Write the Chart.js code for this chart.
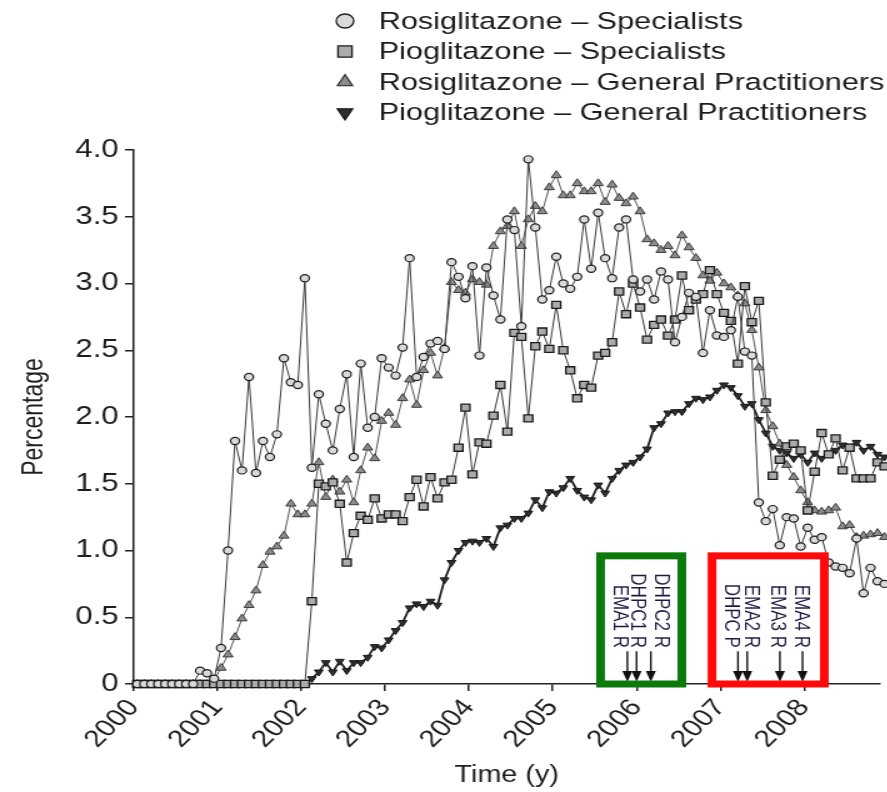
<!DOCTYPE html>
<html>
<head>
<meta charset="utf-8">
<title>Glitazone prescribing 2000-2008</title>
<script src="https://cdn.jsdelivr.net/npm/chart.js@4.4.1/dist/chart.umd.min.js"></script>
<style>
	html, body { margin: 0; padding: 0; background: #fff; overflow: hidden; }
	/* the source figure is stretched sideways, so the canvas is stretched the same way */
	#wrap { width: 710px; height: 792px; transform: scaleX(1.25); transform-origin: 0 0; }
	#line-chart { width: 710px; height: 792px; }
</style>
</head>
<body>
<div id="wrap"><canvas id="line-chart" width="710" height="792"></canvas></div>
<script>
// monthly values, Jan 2000 .. Dec 2008 (108 months), in percent
var startYear = 2000;

var rosiSpecialists = [
	0, 0, 0, 0, 0, 0, 0, 0, 0, 0.10,
	0.08, 0.04, 0.27, 1.00, 1.82, 1.60, 2.30, 1.58, 1.82, 1.70,
	1.87, 2.44, 2.26, 2.24, 3.04, 1.62, 2.17, 1.95, 1.75, 2.06,
	2.32, 1.70, 2.40, 1.92, 2.00, 2.44, 2.37, 2.31, 2.52, 3.19,
	2.30, 2.45, 2.55, 2.57, 2.51, 3.16, 3.05, 2.89, 3.13, 2.46,
	3.12, 2.91, 2.73, 3.48, 3.40, 2.68, 3.93, 3.42, 2.88, 2.95,
	3.20, 3.00, 2.96, 3.05, 3.48, 3.11, 3.53, 3.19, 3.04, 3.42,
	3.48, 3.03, 2.94, 3.03, 2.88, 3.09, 3.03, 2.56, 2.75, 2.93,
	2.90, 2.48, 2.80, 2.61, 2.60, 2.65, 2.90, 2.49, 2.46, 1.36,
	1.22, 1.31, 1.04, 1.25, 1.24, 1.03, 1.17, 1.08, 1.10, 0.91,
	0.88, 0.87, 0.83, 1.09, 0.68, 0.87, 0.77, 0.75
];

var pioSpecialists = [
	0, 0, 0, 0, 0, 0, 0, 0, 0, 0,
	0, 0, 0, 0, 0, 0, 0, 0, 0, 0,
	0, 0, 0, 0, 0, 0.62, 1.50, 1.48, 1.51, 1.35,
	0.91, 1.13, 1.26, 1.23, 1.39, 1.24, 1.27, 1.27, 1.22, 1.40,
	1.53, 1.33, 1.55, 1.39, 1.51, 1.53, 1.77, 2.07, 1.57, 1.81,
	1.80, 2.01, 2.24, 1.89, 2.63, 2.60, 1.99, 2.53, 2.64, 2.51,
	2.84, 2.50, 2.35, 2.14, 2.24, 2.22, 2.46, 2.48, 2.56, 2.94,
	2.77, 3.00, 2.82, 2.58, 2.69, 2.73, 2.61, 2.73, 3.06, 2.80,
	2.88, 2.92, 3.10, 2.92, 2.78, 2.72, 2.40, 2.98, 2.71, 2.87,
	2.11, 1.56, 1.68, 1.78, 1.80, 1.75, 1.30, 1.59, 1.88, 1.72,
	1.84, 1.60, 1.77, 1.54, 1.54, 1.54, 1.66, 1.63
];

var rosiGP = [
	0, 0, 0, 0, 0, 0, 0, 0, 0, 0,
	0, 0.03, 0.12, 0.22, 0.35, 0.49, 0.59, 0.70, 0.89, 0.99,
	1.03, 1.11, 1.35, 1.27, 1.27, 1.35, 1.66, 1.40, 1.53, 1.44,
	1.53, 1.36, 1.60, 1.77, 1.69, 1.97, 2.03, 1.94, 2.14, 2.28,
	2.09, 2.35, 2.48, 2.31, 2.52, 3.01, 2.95, 2.93, 3.03, 3.01,
	2.99, 3.28, 3.39, 3.43, 3.54, 3.28, 3.48, 3.58, 3.54, 3.72,
	3.81, 3.66, 3.66, 3.75, 3.69, 3.69, 3.75, 3.61, 3.74, 3.64,
	3.60, 3.65, 3.54, 3.33, 3.30, 3.25, 3.28, 3.21, 3.36, 3.27,
	3.19, 3.06, 3.02, 3.08, 3.00, 2.97, 2.91, 2.85, 2.65, 2.37,
	2.05, 1.93, 1.80, 1.64, 1.55, 1.45, 1.36, 1.30, 1.29, 1.30,
	1.32, 1.18, 1.19, 1.10, 1.11, 1.12, 1.13, 1.10
];

var pioGP = [
	0, 0, 0, 0, 0, 0, 0, 0, 0, 0,
	0, 0, 0, 0, 0, 0, 0, 0, 0, 0,
	0, 0, 0, 0, 0, 0.04, 0.09, 0.16, 0.09, 0.17,
	0.10, 0.16, 0.16, 0.20, 0.28, 0.27, 0.33, 0.40, 0.46, 0.57,
	0.60, 0.58, 0.62, 0.59, 0.78, 0.91, 1.00, 1.06, 1.07, 1.06,
	1.09, 1.03, 1.17, 1.19, 1.24, 1.24, 1.28, 1.38, 1.32, 1.44,
	1.43, 1.47, 1.54, 1.45, 1.40, 1.38, 1.49, 1.43, 1.54, 1.60,
	1.64, 1.66, 1.70, 1.76, 1.92, 1.95, 2.03, 2.04, 2.04, 2.10,
	2.14, 2.13, 2.15, 2.20, 2.24, 2.22, 2.16, 2.08, 2.10, 1.98,
	1.88, 1.78, 1.75, 1.73, 1.69, 1.72, 1.66, 1.73, 1.69, 1.73,
	1.75, 1.79, 1.78, 1.81, 1.75, 1.78, 1.72, 1.70
];

var seriesLabels = [
	"Rosiglitazone \u2013 Specialists",
	"Pioglitazone \u2013 Specialists",
	"Rosiglitazone \u2013 General Practitioners",
	"Pioglitazone \u2013 General Practitioners"
];

var yearTicks = [2000, 2001, 2002, 2003, 2004, 2005, 2006, 2007, 2008];
var percentTicks = [0, 0.5, 1.0, 1.5, 2.0, 2.5, 3.0, 3.5, 4.0];

// safety communications (DHPC = letter to prescribers, EMA = agency statement)
var warningLabels = ["EMA1 R", "DHPC1 R", "DHPC2 R", "DHPC P", "EMA2 R", "EMA3 R", "EMA4 R"];
var warningDates = [2005.89, 2006.0, 2006.17, 2007.21, 2007.32, 2007.71, 2007.98];
var warningLabelDates = [2005.79, 2006.0, 2006.29, 2007.13, 2007.36, 2007.67, 2007.96];
var warningBoxFrom = [2005.57, 2006.90];
var warningBoxTo = [2006.54, 2008.24];
var warningBoxColors = ["#0b7a0b", "#ff0a0a"];

var fontFamily = '"Liberation Sans", Arial, Helvetica, sans-serif';
Chart.defaults.font.family = fontFamily;
Chart.defaults.color = "#222";

function toPoints(values) {
	return values.map(function (v, i) {
		return { x: startYear + (i + 0.5) / 12, y: v };
	});
}

// small shape helper for the legend markers
function drawMarker(ctx, style, rotation, x, y, r, fill, stroke) {
	ctx.beginPath();
	if (style === "circle") {
		ctx.arc(x, y, r, 0, Math.PI * 2);
	} else if (style === "rect") {
		ctx.rect(x - r * 0.8, y - r * 0.8, r * 1.6, r * 1.6);
	} else {
		var rad = rotation * Math.PI / 180;
		for (var k = 0; k < 3; k++) {
			var px = x + Math.sin(rad) * r;
			var py = y - Math.cos(rad) * r * 1.05;
			if (k === 0) ctx.moveTo(px, py); else ctx.lineTo(px, py);
			rad += Math.PI * 2 / 3;
		}
		ctx.closePath();
	}
	ctx.fillStyle = fill;
	ctx.fill();
	ctx.lineWidth = 1.3;
	ctx.strokeStyle = stroke;
	ctx.stroke();
}

// legend as a single column above the plot
var stackedLegend = {
	id: "stackedLegend",
	afterDraw: function (chart) {
		var ctx = chart.ctx;
		ctx.save();
		ctx.font = "24.5px " + fontFamily;
		ctx.textAlign = "left";
		ctx.textBaseline = "middle";
		chart.data.datasets.forEach(function (ds, i) {
			var y = 21 + i * 30.5;
			drawMarker(ctx, ds.pointStyle, ds.pointRotation || 0, 276, y, 7, ds.pointBackgroundColor, ds.pointBorderColor);
			ctx.fillStyle = "#1c1c1c";
			ctx.fillText(ds.label, 303, y + 1);
		});
		ctx.restore();
	}
};

// coloured boxes with the dated safety warnings
var warningMarks = {
	id: "warningMarks",
	afterDraw: function (chart) {
		var ctx = chart.ctx;
		var xs = chart.scales.x;
		var ys = chart.scales.y;
		ctx.save();

		var textBottom = ys.getPixelForValue(0.27);
		var arrowTail = ys.getPixelForValue(0.245);
		var arrowTip = ys.getPixelForValue(0.015);

		ctx.fillStyle = "#1b1b45";
		ctx.font = "17px " + fontFamily;
		ctx.textAlign = "right";
		ctx.textBaseline = "middle";
		warningLabels.forEach(function (label, i) {
			ctx.save();
			ctx.translate(xs.getPixelForValue(warningLabelDates[i]), textBottom);
			ctx.rotate(Math.PI / 2);
			ctx.fillText(label, 0, 0);
			ctx.restore();
		});

		ctx.strokeStyle = "#111";
		ctx.fillStyle = "#111";
		ctx.lineWidth = 1.4;
		warningDates.forEach(function (d) {
			var x = xs.getPixelForValue(d);
			ctx.beginPath();
			ctx.moveTo(x, arrowTail);
			ctx.lineTo(x, arrowTip - 8);
			ctx.stroke();
			ctx.beginPath();
			ctx.moveTo(x, arrowTip);
			ctx.lineTo(x - 4, arrowTip - 11);
			ctx.lineTo(x + 4, arrowTip - 11);
			ctx.closePath();
			ctx.fill();
		});

		ctx.lineWidth = 7;
		var top = ys.getPixelForValue(0.96);
		var bottom = ys.getPixelForValue(0);
		warningBoxFrom.forEach(function (from, i) {
			var left = xs.getPixelForValue(from);
			var right = xs.getPixelForValue(warningBoxTo[i]);
			ctx.strokeStyle = warningBoxColors[i];
			ctx.strokeRect(left, top, right - left, bottom - top);
		});
		ctx.restore();
	}
};

var chart = document.getElementById("line-chart");

var chartOptions = {
	responsive: false,
	animation: false,
	layout: {
		padding: { top: 150, right: 0, bottom: 0, left: 0 }
	},
	plugins: {
		legend: { display: false },
		tooltip: { enabled: false }
	},
	scales: {
		x: {
			type: "linear",
			min: 2000,
			max: 2008.9,
			afterBuildTicks: function (scale) {
				scale.ticks = yearTicks.map(function (v) { return { value: v }; });
			},
			afterFit: function (scale) { scale.height = 108; },
			grid: { drawOnChartArea: false, tickLength: 7, color: "#222", lineWidth: 1.5 },
			border: { display: true, color: "#222", width: 1.5 },
			ticks: {
				autoSkip: false,
				minRotation: 50,
				maxRotation: 50,
				padding: 3,
				color: "#1e1e1e",
				font: { size: 24 },
				callback: function (v) { return String(v); }
			},
			title: {
				display: true,
				text: "Time (y)",
				color: "#1e1e1e",
				font: { size: 23 },
				padding: { top: 0, bottom: 3 }
			}
		},
		y: {
			min: 0,
			max: 4.0,
			afterBuildTicks: function (scale) {
				scale.ticks = percentTicks.map(function (v) { return { value: v }; });
			},
			afterFit: function (scale) { scale.width = 107; },
			grid: { drawOnChartArea: false, tickLength: 7, color: "#222", lineWidth: 1.5 },
			border: { display: true, color: "#222", width: 1.5 },
			ticks: {
				padding: 5,
				color: "#1e1e1e",
				font: { size: 25 },
				callback: function (v) { return v === 0 ? "0" : v.toFixed(1); }
			},
			title: {
				display: true,
				text: "Percentage",
				color: "#1e1e1e",
				font: { size: 23 },
				padding: { top: 14, bottom: 0 }
			}
		}
	}
};

var chartData = {
	datasets: [{
		label: seriesLabels[0],
		data: toPoints(rosiSpecialists),
		pointStyle: "circle",
		pointRadius: 3.6,
		pointBackgroundColor: "#dadada",
		pointBorderColor: "#1e1e1e",
		pointBorderWidth: 1.2,
		borderColor: "#3a3a3a",
		borderWidth: 1,
		clip: false
	}, {
		label: seriesLabels[1],
		data: toPoints(pioSpecialists),
		pointStyle: "rect",
		pointRadius: 5,
		pointBackgroundColor: "#ababab",
		pointBorderColor: "#1a1a1a",
		pointBorderWidth: 1.3,
		borderColor: "#3a3a3a",
		borderWidth: 1,
		clip: false
	}, {
		label: seriesLabels[2],
		data: toPoints(rosiGP),
		pointStyle: "triangle",
		pointRadius: 4.6,
		pointBackgroundColor: "#8c8c8c",
		pointBorderColor: "#3a3a3a",
		pointBorderWidth: 1,
		borderColor: "#555",
		borderWidth: 1,
		clip: false
	}, {
		label: seriesLabels[3],
		data: toPoints(pioGP),
		pointStyle: "triangle",
		pointRotation: 180,
		pointRadius: 4,
		pointBackgroundColor: "#2e2e2e",
		pointBorderColor: "#1a1a1a",
		pointBorderWidth: 1,
		borderColor: "#1e1e1e",
		borderWidth: 1.8,
		clip: false
	}]
};

var config = {
	type: "line",
	options: chartOptions,
	data: chartData,
	plugins: [stackedLegend, warningMarks]
};

var lineChart = new Chart(chart, config);
</script>
</body>
</html>
